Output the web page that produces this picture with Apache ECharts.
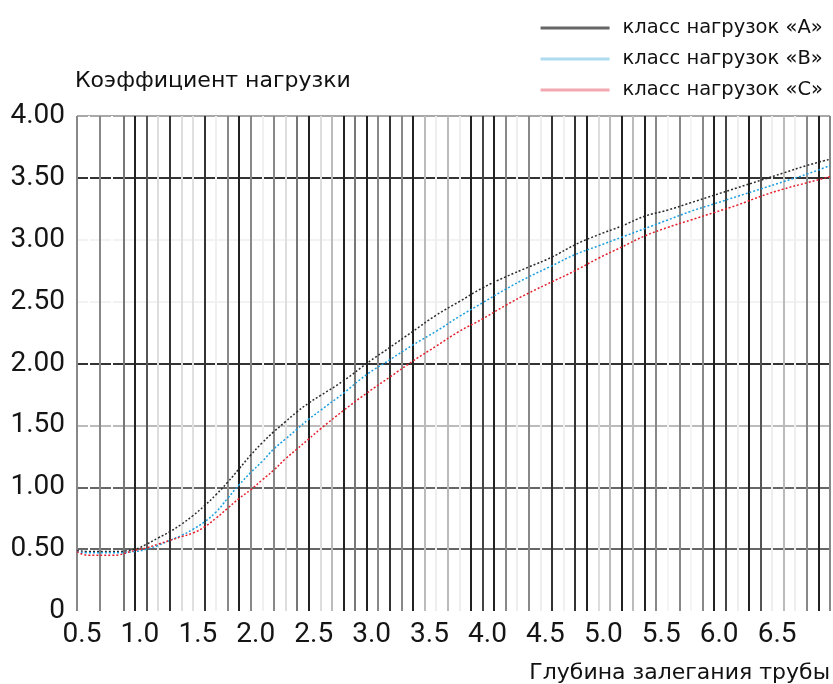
<!DOCTYPE html>
<html>
<head>
<meta charset="utf-8">
<title>Коэффициент нагрузки</title>
<script src="https://cdn.jsdelivr.net/npm/echarts@6/dist/echarts.min.js"></script>
<style>
  html, body { margin: 0; padding: 0; background: #fff; }
  #main { width: 833px; height: 684px; }
</style>
</head>
<body>
<div id="main"></div>
<script>
// глубина залегания трубы, м
var depth = [0.5, 0.6, 0.8, 1.0, 1.1, 1.2, 1.3, 1.4, 1.5, 1.6, 1.7, 1.8, 1.9, 2.0, 2.1, 2.2, 2.3, 2.4, 2.5, 2.6,
  2.8, 3.0, 3.2, 3.4, 3.6, 3.8, 4.0, 4.2, 4.4, 4.6, 4.8, 5.0, 5.2, 5.4, 5.6, 5.8, 6.0, 6.2, 6.4, 6.6, 6.8, 7.0];

// коэффициент нагрузки по классам
var classA = [0.49, 0.48, 0.48, 0.50, 0.54, 0.59, 0.64, 0.70, 0.77, 0.85, 0.94, 1.04, 1.15, 1.26, 1.36, 1.45, 1.53, 1.61, 1.68, 1.74,
  1.86, 2.00, 2.13, 2.26, 2.39, 2.50, 2.61, 2.70, 2.78, 2.86, 2.96, 3.04, 3.11, 3.19, 3.24, 3.30, 3.36, 3.42, 3.48, 3.54, 3.60, 3.65];
var classB = [0.48, 0.47, 0.47, 0.48, 0.50, 0.53, 0.57, 0.61, 0.66, 0.72, 0.80, 0.91, 1.02, 1.12, 1.21, 1.31, 1.39, 1.47, 1.55, 1.62,
  1.76, 1.91, 2.03, 2.15, 2.26, 2.38, 2.49, 2.60, 2.70, 2.79, 2.88, 2.95, 3.02, 3.09, 3.16, 3.23, 3.29, 3.35, 3.41, 3.47, 3.53, 3.60];
var classC = [0.48, 0.45, 0.45, 0.49, 0.51, 0.54, 0.57, 0.60, 0.63, 0.68, 0.75, 0.83, 0.91, 0.98, 1.06, 1.14, 1.23, 1.31, 1.39, 1.47,
  1.62, 1.76, 1.89, 2.02, 2.14, 2.26, 2.36, 2.47, 2.57, 2.66, 2.75, 2.85, 2.94, 3.03, 3.10, 3.16, 3.22, 3.28, 3.35, 3.41, 3.46, 3.51];

var seriesNames = ['класс нагрузок «А»', 'класс нагрузок «В»', 'класс нагрузок «С»'];

// сетка через 0.1 м - оттенки линий как на скане
var vLineColors = [
  '#888', '#fff', '#888', '#fff', '#777', '#222', '#555', '#ddd', '#333', '#ddd',
  '#e0e0e0', '#333', '#f0f0f0', '#888', '#222', '#888', '#f0f0f0', '#888', '#ddd', '#777',
  '#222', '#ddd', '#bbb', '#222', '#777', '#222', '#888', '#333', '#888', '#222',
  '#bbb', '#eee', '#bbb', '#eee', '#222', '#444', '#222', '#888', '#eee', '#888',
  '#eee', '#333', '#f0f0f0', '#333', '#222', '#ddd', '#bbb', '#222', '#bbb', '#222',
  '#888', '#f4f4f4', '#888', '#f4f4f4', '#888', '#222', '#444', '#eee', '#222', '#555',
  '#eee', '#bbb', '#eee', '#888', '#222', '#888'
];
var hLineColors = ['rgba(0,0,0,0)', '#666', '#666', '#bbb', '#333', '#f2f2f2', '#f2f2f2', '#333', '#a8a8a8'];

var labelFont = 'Roboto, "DejaVu Sans", sans-serif';
var textFont = '"DejaVu Sans", sans-serif';

function pairs(ys) {
  return depth.map(function (x, i) { return [x, ys[i]]; });
}

var chart = echarts.init(document.getElementById('main'));

var option = {
  backgroundColor: '#fff',
  animation: false,
  grid: { left: 77, right: 3, top: 116, bottom: 71, containLabel: false },
  legend: {
    orient: 'vertical',
    right: 5,
    top: 12,
    icon: 'rect',
    itemWidth: 69,
    itemHeight: 3,
    itemGap: 9,
    textStyle: { fontFamily: textFont, fontSize: 19.5, lineHeight: 22, color: '#111', padding: [0, 0, 0, 8] },
    data: [
      { name: seriesNames[0], itemStyle: { color: '#666' } },
      { name: seriesNames[1], itemStyle: { color: '#aedcf0' } },
      { name: seriesNames[2], itemStyle: { color: '#f2a8b0' } }
    ]
  },
  xAxis: {
    type: 'value',
    min: 0.5,
    max: 7.0,
    interval: 0.1,
    name: 'Глубина залегания трубы',
    nameLocation: 'end',
    nameGap: 0,
    nameTextStyle: {
      fontFamily: textFont, fontSize: 22, color: '#111',
      align: 'right', verticalAlign: 'top', padding: [51, 0, 0, 0]
    },
    axisLine: { show: false },
    axisTick: { show: false },
    axisLabel: {
      fontFamily: labelFont, fontSize: 28, color: '#151515', margin: 10,
      padding: [0, 0, 0, 10],
      formatter: function (v) {
        var h = v * 2;
        if (Math.abs(h - Math.round(h)) < 1e-6 && v < 6.99) return v.toFixed(1);
        return '';
      }
    },
    splitLine: { show: true, lineStyle: { color: vLineColors, width: 2 } }
  },
  yAxis: {
    type: 'value',
    min: 0,
    max: 4,
    interval: 0.5,
    name: 'Коэффициент нагрузки',
    nameLocation: 'end',
    nameGap: 35,
    nameTextStyle: {
      fontFamily: textFont, fontSize: 22, color: '#111',
      align: 'left', verticalAlign: 'middle', padding: [0, 0, 0, -2]
    },
    axisLine: { show: false },
    axisTick: { show: false },
    axisLabel: {
      fontFamily: labelFont, fontSize: 28, color: '#151515', margin: 12,
      formatter: function (v) { return v === 0 ? '0' : v.toFixed(2); }
    },
    splitLine: { show: true, lineStyle: { color: hLineColors, width: 2 } }
  },
  series: [
    {
      name: seriesNames[0], type: 'line', data: pairs(classA), symbol: 'none', smooth: true, z: 5,
      lineStyle: { color: '#2a2a2a', width: 1.5, type: [2, 2] }, itemStyle: { color: '#666' }
    },
    {
      name: seriesNames[1], type: 'line', data: pairs(classB), symbol: 'none', smooth: true, z: 5,
      lineStyle: { color: '#1a9ee0', width: 1.5, type: [2, 2] }, itemStyle: { color: '#aedcf0' }
    },
    {
      name: seriesNames[2], type: 'line', data: pairs(classC), symbol: 'none', smooth: true, z: 5,
      lineStyle: { color: '#e5202c', width: 1.5, type: [2, 2] }, itemStyle: { color: '#f2a8b0' }
    }
  ]
};

chart.setOption(option);
</script>
</body>
</html>
